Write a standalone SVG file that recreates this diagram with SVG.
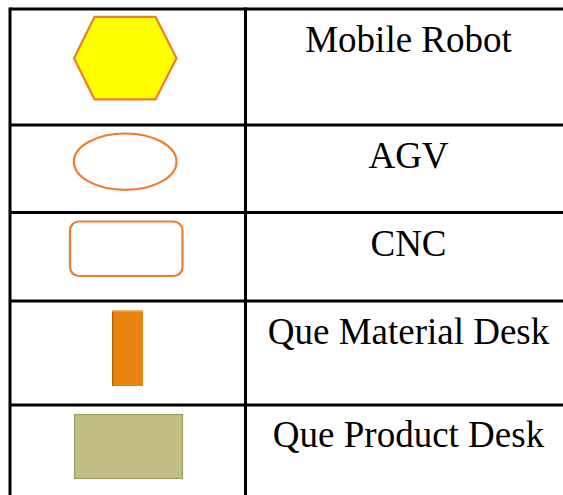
<svg xmlns="http://www.w3.org/2000/svg" width="563" height="495" viewBox="0 0 563 495">
  <style>
    .grid { stroke: #000; stroke-width: 3; fill: none; }
    .label { font-family: "Liberation Serif", "Times New Roman", serif; font-size: 37px; fill: #000; text-anchor: middle; }
    .outline { fill: none; stroke: #ED7D31; stroke-width: 2.2; }
  </style>
  <rect width="563" height="495" fill="#fff"/>

  <!-- table rules -->
  <g id="table" class="grid">
    <line x1="10" y1="9" x2="563" y2="9"/>
    <line x1="10" y1="125" x2="563" y2="125"/>
    <line x1="10" y1="212.5" x2="563" y2="212.5"/>
    <line x1="10" y1="301" x2="563" y2="301"/>
    <line x1="10" y1="405" x2="563" y2="405"/>
    <line x1="10" y1="7.5" x2="10" y2="495"/>
    <line x1="245.5" y1="7.5" x2="245.5" y2="495"/>
  </g>

  <g id="mobile-robot">
    <polygon points="74,58.3 94.5,16.8 155.5,16.8 176.5,58.3 155.5,99.3 94.5,99.3" fill="#FFFF00" stroke="#ED7D31" stroke-width="2.2"/>
    <text class="label" x="408.5" y="52">Mobile Robot</text>
  </g>

  <g id="agv">
    <ellipse class="outline" cx="125.2" cy="161.7" rx="51.3" ry="28.2"/>
    <text class="label" x="408.5" y="168">AGV</text>
  </g>

  <g id="cnc">
    <rect class="outline" x="70" y="221.5" width="112.5" height="54.5" rx="9"/>
    <text class="label" x="408.5" y="256">CNC</text>
  </g>

  <g id="material-desk">
    <rect x="112" y="310" width="31" height="76" fill="#E8830F"/>
    <rect x="112" y="310" width="1.5" height="76" fill="#B8640A"/>
    <rect x="112" y="310" width="31" height="1.5" fill="#F2B070"/>
    <text class="label" x="408.5" y="343.5">Que Material Desk</text>
  </g>

  <g id="product-desk">
    <rect x="74.5" y="414.5" width="108" height="64" fill="#C2BD82" stroke="#9E9A66" stroke-width="1.2"/>
    <text class="label" x="408.5" y="447">Que Product Desk</text>
  </g>
</svg>
